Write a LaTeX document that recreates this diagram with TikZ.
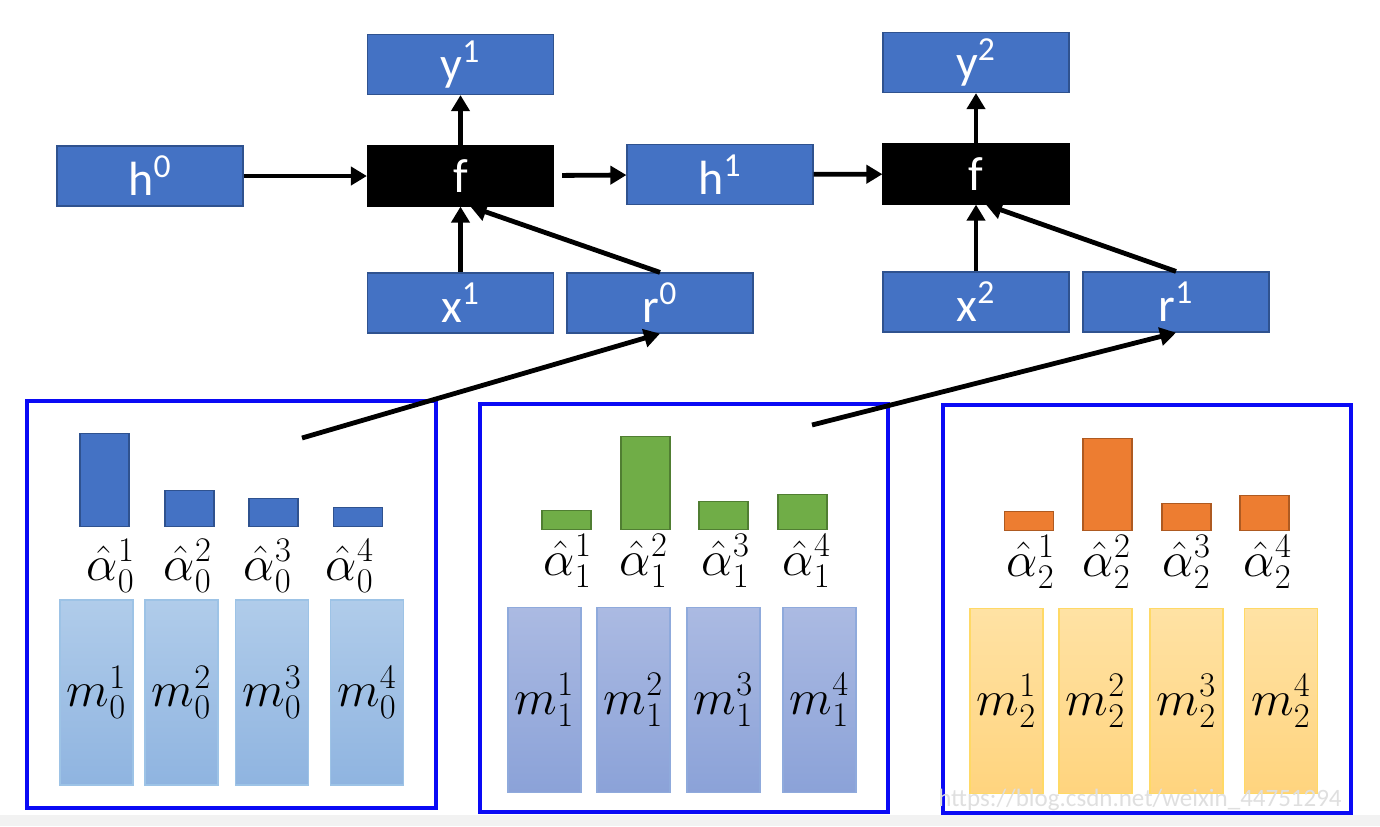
\documentclass[tikz,border=0pt]{standalone}
\usepackage{fontspec}
\setmainfont{Carlito}
\usetikzlibrary{arrows.meta,calc}
\definecolor{boxblue}{HTML}{4472C4}
\definecolor{boxedge}{HTML}{2F528F}
\definecolor{gbar}{HTML}{70AD47}
\definecolor{gedge}{HTML}{507E32}
\definecolor{obar}{HTML}{ED7D31}
\definecolor{oedge}{HTML}{AE5A21}
\definecolor{frameblue}{HTML}{0A0AF5}
\definecolor{mbtop}{HTML}{B0CCEA}
\definecolor{mbbot}{HTML}{8FB4E0}
\definecolor{mbedge}{HTML}{9DC3E6}
\definecolor{mptop}{HTML}{ABBAE2}
\definecolor{mpbot}{HTML}{8BA2D8}
\definecolor{mpedge}{HTML}{8FAADC}
\definecolor{mytop}{HTML}{FFE2A4}
\definecolor{mybot}{HTML}{FFD47E}
\definecolor{myedge}{HTML}{FFD966}
\definecolor{stripgray}{HTML}{F2F2F2}
\begin{document}
\begin{tikzpicture}[x=0.5pt,y=-0.5pt]
\tikzset{
 bluebox/.style={draw=boxedge, line width=0.6pt, fill=boxblue, text=white,
   minimum width=93pt, minimum height=30pt, inner sep=0pt,
   font=\fontsize{24}{28}\selectfont},
 fnode/.style={bluebox, fill=black, draw=black},
 con/.style={line width=2.4pt, -{Triangle[width=9pt,length=8pt]}},
 frame/.style={draw=frameblue, line width=2.4pt},
 bar/.style={minimum width=24.5pt, inner sep=0pt, anchor=south, line width=0.6pt},
 bbar/.style={bar, fill=boxblue, draw=boxedge},
 gbarst/.style={bar, fill=gbar, draw=gedge},
 obarst/.style={bar, fill=obar, draw=oedge},
 mem/.style={minimum width=36.5pt, minimum height=92.5pt, inner sep=0pt, line width=0.6pt,
   font=\fontsize{24}{28}\selectfont},
 mblue/.style={mem, top color=mbtop, bottom color=mbbot, draw=mbedge},
 mpurp/.style={mem, top color=mptop, bottom color=mpbot, draw=mpedge},
 myel/.style={mem, top color=mytop, bottom color=mybot, draw=myedge},
 alab/.style={font=\fontsize{24}{28}\selectfont, inner sep=0pt},
}
\useasboundingbox (0,0) rectangle (1380,826);
\fill[stripgray] (0,815) rectangle (1380,826);

% top row
\node[bluebox] (y1) at (460.5,64.5) {y\textsuperscript{1}};
\node[bluebox] (h0) at (150,176) {h\textsuperscript{0}};
\node[fnode] (f1) at (460.5,176) {f};
\node[bluebox] (h1) at (720,174.5) {h\textsuperscript{1}};
\node[bluebox] (x1) at (460.5,303) {x\textsuperscript{1}};
\node[bluebox] (r0) at (660,303) {r\textsuperscript{0}};
\node[bluebox] (y2) at (976,62.5) {y\textsuperscript{2}};
\node[fnode] (f2) at (976,174) {f};
\node[bluebox] (x2) at (976,302) {x\textsuperscript{2}};
\node[bluebox] (r1) at (1176,302) {r\textsuperscript{1}};

% frames
\draw[frame] (27,401) rectangle (436,808);
\draw[frame] (480,404) rectangle (888,812);
\draw[frame] (943,405) rectangle (1351,813);

% box 1
\node[bbar, minimum height=46.5pt] (a01) at (104.5,527) {};
\node[bbar, minimum height=18pt] (a02) at (189.5,527) {};
\node[bbar, minimum height=14pt] (a03) at (273.5,527) {};
\node[bbar, minimum height=9.5pt] (a04) at (358,527) {};
\node[alab] (l01) at (111,566) {$\hat{\alpha}_0^1$};
\node[alab] (l02) at (188,566) {$\hat{\alpha}_0^2$};
\node[alab] (l03) at (268,566) {$\hat{\alpha}_0^3$};
\node[alab] (l04) at (350,566) {$\hat{\alpha}_0^4$};
\node[mblue] (m01) at (96.5,692.5) {$m_0^1$};
\node[mblue] (m02) at (181.5,692.5) {$m_0^2$};
\node[mblue] (m03) at (272,692.5) {$m_0^3$};
\node[mblue] (m04) at (367,692.5) {$m_0^4$};

% box 2
\node[gbarst, minimum height=9.5pt] (a11) at (566.5,530) {};
\node[gbarst, minimum height=46.5pt] (a12) at (645.5,530) {};
\node[gbarst, minimum height=14pt] (a13) at (723.5,530) {};
\node[gbarst, minimum height=17.5pt] (a14) at (802.5,530) {};
\node[alab] (l11) at (568,561) {$\hat{\alpha}_1^1$};
\node[alab] (l12) at (644,561) {$\hat{\alpha}_1^2$};
\node[alab] (l13) at (726,561) {$\hat{\alpha}_1^3$};
\node[alab] (l14) at (807,561) {$\hat{\alpha}_1^4$};
\node[mpurp] (m11) at (544.5,700) {$m_1^1$};
\node[mpurp] (m12) at (633.5,700) {$m_1^2$};
\node[mpurp] (m13) at (723.5,700) {$m_1^3$};
\node[mpurp] (m14) at (819.5,700) {$m_1^4$};

% box 3
\node[obarst, minimum height=9.5pt] (a21) at (1029,531) {};
\node[obarst, minimum height=46pt] (a22) at (1107.5,531) {};
\node[obarst, minimum height=13.5pt] (a23) at (1186.5,531) {};
\node[obarst, minimum height=17.5pt] (a24) at (1264.5,531) {};
\node[alab] (l21) at (1031,562) {$\hat{\alpha}_2^1$};
\node[alab] (l22) at (1107,562) {$\hat{\alpha}_2^2$};
\node[alab] (l23) at (1187,562) {$\hat{\alpha}_2^3$};
\node[alab] (l24) at (1268,562) {$\hat{\alpha}_2^4$};
\node[myel] (m21) at (1006.5,701) {$m_2^1$};
\node[myel] (m22) at (1095.5,701) {$m_2^2$};
\node[myel] (m23) at (1186.5,701) {$m_2^3$};
\node[myel] (m24) at (1281,701) {$m_2^4$};

% connectors
\coordinate (c0) at (302,438);
\coordinate (c1) at (812,425);
\draw[con] (h0) -- (f1);
\draw[con, shorten <=4pt] (f1) -- (h1);
\draw[con] (h1) -- (f2);
\draw[con] (f1) -- (y1);
\draw[con] (x1) -- (f1);
\draw[con] (r0.north) -- ($(f1.south)+(10,0)$);
\draw[con] (f2) -- (y2);
\draw[con] (x2) -- (f2);
\draw[con] (r1.north) -- ($(f2.south)+(10,0)$);
\draw[con] (c0) -- (r0.south);
\draw[con] (c1) -- (r1.south);

% watermark
\node[text=gray!25, font=\fontsize{12.5}{14}\selectfont, inner sep=0pt] (wm) at (1140,800) {https://blog.csdn.net/weixin\_44751294};
\end{tikzpicture}
\end{document}
